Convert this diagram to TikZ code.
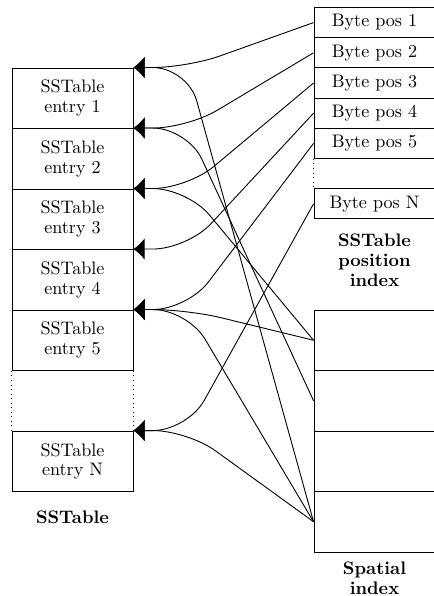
\documentclass[tikz,border=0pt]{standalone}
\usetikzlibrary{arrows.meta,calc}
\begin{document}
\begin{tikzpicture}[x=0.552pt,y=-0.552pt,
  cell/.style={draw,line width=0.5pt,inner sep=0pt,align=center,
    font=\fontsize{10}{10.8}\selectfont},
  entry/.style={cell,minimum width=66.8pt,minimum height=33.4pt},
  bytebox/.style={cell,minimum width=66.8pt,minimum height=16.67pt},
  spcell/.style={cell,minimum width=66.8pt,minimum height=33.4pt},
  title/.style={align=center,font=\fontsize{10}{11}\selectfont\bfseries},
  gap/.style={line width=0.5pt,dotted},
  conn/.style={line width=0.5pt,rounded corners=19pt,
    -{Latex[length=6.2pt,width=12pt]}}]
\useasboundingbox (0,0) rectangle (434,596);

% SSTable entries
\node[entry] (e1) at (72.5,98.25)  {SSTable\\entry 1};
\node[entry] (e2) at (72.5,158.75) {SSTable\\entry 2};
\node[entry] (e3) at (72.5,219.25) {SSTable\\entry 3};
\node[entry] (e4) at (72.5,279.75) {SSTable\\entry 4};
\node[entry] (e5) at (72.5,340.25) {SSTable\\entry 5};
\node[entry] (eN) at (72.5,461.25) {SSTable\\entry N};
\draw[gap] (e5.south west) -- (eN.north west);
\draw[gap] (e5.south east) -- (eN.north east);
\node[title] (tsst) at (72.5,517) {SSTable};

% position index
\node[bytebox] (b1) at (374.5,22.6)  {Byte pos 1};
\node[bytebox] (b2) at (374.5,52.8)  {Byte pos 2};
\node[bytebox] (b3) at (374.5,83.0)  {Byte pos 3};
\node[bytebox] (b4) at (374.5,113.2) {Byte pos 4};
\node[bytebox] (b5) at (374.5,143.4) {Byte pos 5};
\node[bytebox] (bN) at (374.5,203.8) {Byte pos N};
\draw[gap] (b5.south west) -- (bN.north west);
\node[title] (tpos) at (374.5,260) {SSTable\\position\\index};

% spatial index
\node[spcell] (s1) at (374.5,340.25) {};
\node[spcell] (s2) at (374.5,400.75) {};
\node[spcell] (s3) at (374.5,461.25) {};
\node[spcell] (s4) at (374.5,521.75) {};
\node[title] (tsp) at (374.5,578) {Spatial\\index};

% links from the position index
\draw[conn] (b1.west) -- ($(e1.north east)+(54,0)$) -- (e1.north east);
\draw[conn] (b2.west) -- ($(e2.north east)+(54,0)$) -- (e2.north east);
\draw[conn] (b3.west) -- ($(e3.north east)+(54,0)$) -- (e3.north east);
\draw[conn] (b4.west) -- ($(e4.north east)+(54,0)$) -- (e4.north east);
\draw[conn] (b5.west) -- ($(e5.north east)+(54,0)$) -- (e5.north east);
\draw[conn] (bN.west) -- ($(eN.north east)+(54,0)$) -- (eN.north east);

% links from the spatial index
\draw[conn] (s4.west) -- ($(e1.north east)+(54,0)$) -- (e1.north east);
\draw[conn] (s2.west) -- ($(e2.north east)+(54,0)$) -- (e2.north east);
\draw[conn] (s1.west) -- ($(e3.north east)+(54,0)$) -- (e3.north east);
\draw[conn] (s1.west) -- ($(e5.north east)+(54,0)$) -- (e5.north east);
\draw[conn] (s4.west) -- ($(e5.north east)+(54,0)$) -- (e5.north east);
\draw[conn] (s4.west) -- ($(eN.north east)+(54,0)$) -- (eN.north east);
\end{tikzpicture}
\end{document}
